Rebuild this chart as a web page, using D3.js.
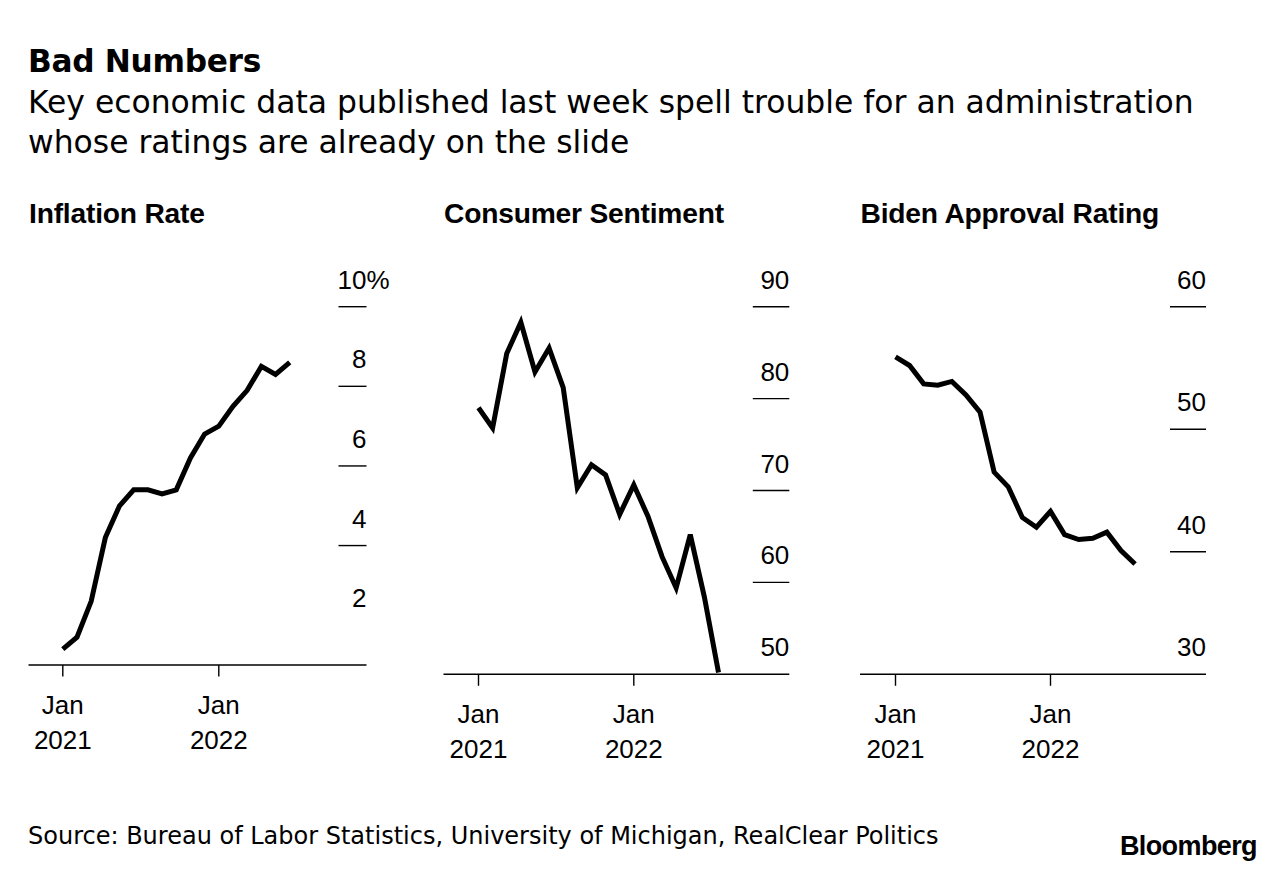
<!DOCTYPE html>
<html>
<head>
<meta charset="utf-8">
<script src="https://cdn.jsdelivr.net/npm/d3@7"></script>
<style>
  html, body { margin: 0; padding: 0; background: #fff; }
  svg { display: block; }
  .reg { font-family: "DejaVu Sans", sans-serif; fill: #000; }
  .axl { font-family: "Liberation Sans", Arial, sans-serif; font-size: 26px; fill: #000; }
  .ptitle { font-family: "Liberation Sans", Arial, sans-serif; font-weight: bold; font-size: 28.2px; fill: #000; }
</style>
</head>
<body>
<svg width="1287" height="874"></svg>
<script>
// month index 0 = Jan 2021
const inflation = [1.4, 1.7, 2.6, 4.2, 5.0, 5.4, 5.4, 5.3, 5.4, 6.2, 6.8, 7.0, 7.5, 7.9, 8.5, 8.3, 8.6];
const sentiment = [79.0, 76.8, 84.9, 88.3, 82.9, 85.5, 81.2, 70.3, 72.8, 71.7, 67.4, 70.6, 67.2, 62.8, 59.4, 65.2, 58.4, 50.2];
const approval = [55.9, 55.2, 53.7, 53.6, 53.9, 52.8, 51.4, 46.5, 45.3, 42.8, 42.0, 43.3, 41.4, 41.0, 41.1, 41.6, 40.1, 39.0];

const inflationTicks = [2, 4, 6, 8, 10];
const sentimentTicks = [50, 60, 70, 80, 90];
const approvalTicks = [30, 40, 50, 60];

const xTickIdx = [0, 11];
const xTickLabels = [["Jan", "2021"], ["Jan", "2022"]];

const svg = d3.select("svg");

// header
svg.append("text")
    .attr("x", 28).attr("y", 72)
    .style("font-family", "'DejaVu Sans', sans-serif")
    .style("font-weight", "bold")
    .style("font-size", "31.2px")
    .style("letter-spacing", "-0.3px")
    .text("Bad Numbers");

const sub = svg.append("text").attr("class", "reg").style("font-size", "31.4px");
sub.append("tspan").attr("x", 28).attr("y", 113)
    .text("Key economic data published last week spell trouble for an administration");
sub.append("tspan").attr("x", 28).attr("y", 153)
    .text("whose ratings are already on the slide");

// panels
const panels = [
    {title: "Inflation Rate", values: inflation, ticks: inflationTicks, domain: [1, 10], pct: true,
     left: 28.5, right: 366.5, x0: 62.8, x11: 218.8, bottom: 665, top: 306.7, tickW: 28},
    {title: "Consumer Sentiment", values: sentiment, ticks: sentimentTicks, domain: [50, 90], pct: false,
     left: 443.5, right: 789.3, x0: 478.5, x11: 633.8, bottom: 674.3, top: 306.7, tickW: 36.5},
    {title: "Biden Approval Rating", values: approval, ticks: approvalTicks, domain: [30, 60], pct: false,
     left: 860, right: 1206, x0: 895.5, x11: 1050.5, bottom: 674.3, top: 306.7, tickW: 36}
];

panels.forEach(p => drawPanel(p));

function drawPanel(p) {
    const g = svg.append("g");
    const x = d3.scaleLinear().domain([0, 11]).range([p.x0, p.x11]);
    const y = d3.scaleLinear().domain(p.domain).range([p.bottom, p.top]);

    g.append("text")
        .attr("class", "ptitle")
        .attr("x", p.left + 0.5).attr("y", 222.5)
        .style("letter-spacing", "-0.2px")
        .text(p.title);

    // y tick lines (lowest one is the baseline itself)
    g.selectAll(".ytick")
        .data(p.ticks.slice(1))
        .join("line")
        .attr("x1", p.right - p.tickW).attr("x2", p.right)
        .attr("y1", d => y(d)).attr("y2", d => y(d))
        .attr("stroke", "#000").attr("stroke-width", 1.4);

    g.selectAll(".ylab")
        .data(p.ticks)
        .join("text")
        .attr("class", "axl")
        .attr("x", p.right).attr("y", d => y(d) - 18)
        .attr("text-anchor", "end")
        .text(d => d);

    if (p.pct) {
        const top = p.ticks[p.ticks.length - 1];
        g.append("text")
            .attr("class", "axl")
            .attr("x", p.right).attr("y", y(top) - 18)
            .text("%");
    }

    // baseline and x ticks
    g.append("line")
        .attr("x1", p.left).attr("x2", p.right)
        .attr("y1", p.bottom).attr("y2", p.bottom)
        .attr("stroke", "#000").attr("stroke-width", 1.4);

    g.selectAll(".xtick")
        .data(xTickIdx)
        .join("line")
        .attr("x1", d => x(d)).attr("x2", d => x(d))
        .attr("y1", p.bottom).attr("y2", p.bottom + 11.5)
        .attr("stroke", "#000").attr("stroke-width", 1.4);

    const xl = g.selectAll(".xlab")
        .data(xTickIdx)
        .join("text")
        .attr("class", "axl")
        .attr("text-anchor", "middle");
    xl.append("tspan").attr("x", d => x(d)).attr("y", p.bottom + 48.5)
        .text((d, i) => xTickLabels[i][0]);
    xl.append("tspan").attr("x", d => x(d)).attr("y", p.bottom + 83.5)
        .text((d, i) => xTickLabels[i][1]);

    const line = d3.line()
        .x((d, i) => x(i))
        .y(d => y(d));

    g.append("path")
        .datum(p.values)
        .attr("d", line)
        .attr("fill", "none")
        .attr("stroke", "#000")
        .attr("stroke-width", 5)
        .attr("stroke-linejoin", "miter")
        .attr("stroke-linecap", "butt");
}

// footer
svg.append("text")
    .attr("class", "reg")
    .attr("x", 28).attr("y", 844)
    .style("font-size", "24px")
    .text("Source: Bureau of Labor Statistics, University of Michigan, RealClear Politics");

svg.append("text")
    .attr("x", 1257).attr("y", 855)
    .attr("text-anchor", "end")
    .style("font-family", "'Liberation Sans', Arial, sans-serif")
    .style("font-weight", "bold")
    .style("font-size", "27px")
    .style("letter-spacing", "-0.6px")
    .text("Bloomberg");
</script>
</body>
</html>
